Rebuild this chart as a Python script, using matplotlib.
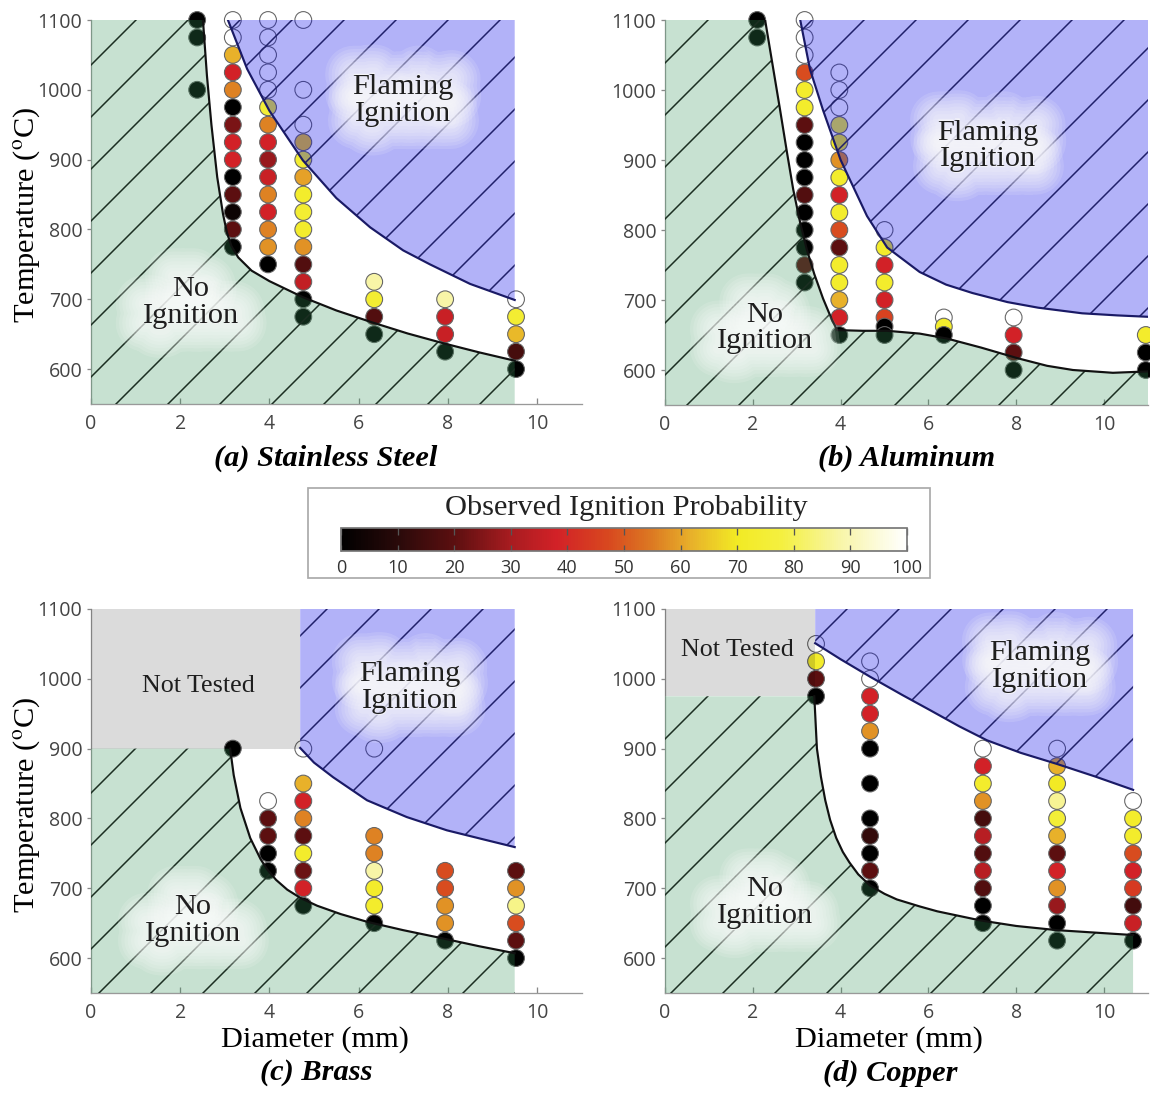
import matplotlib
matplotlib.use('Agg')
import matplotlib.pyplot as plt
import matplotlib.patheffects as pe
from matplotlib.colors import LinearSegmentedColormap, Normalize
from matplotlib.cm import ScalarMappable
from matplotlib.patches import Polygon, Rectangle
import numpy as np

# ---- data (diameter mm, temperature C, observed ignition probability %) ----
ss_x = [2.38] * 3 + [3.18] * 14 + [3.97] * 15 + [4.76] * 14 + [6.35] * 4 + [7.94] * 4 + [9.53] * 5
ss_t = [1100, 1075, 1000,
        1100, 1075, 1050, 1025, 1000, 975, 950, 925, 900, 875, 850, 825, 800, 775,
        1100, 1075, 1050, 1025, 1000, 975, 950, 925, 900, 875, 850, 825, 800, 775, 750,
        1100, 1000, 950, 925, 900, 875, 850, 825, 800, 775, 750, 725, 700, 675,
        725, 700, 675, 650,
        700, 675, 650, 625,
        700, 675, 650, 625, 600]
ss_p = [0, 0, 0,
        100, 100, 62, 38, 56, 0, 24, 38, 38, 0, 20, 3, 20, 0,
        100, 100, 100, 100, 100, 75, 56, 38, 28, 36, 56, 38, 56, 58, 0,
        100, 100, 100, 65, 74, 60, 72, 74, 72, 58, 18, 35, 0, 0,
        88, 74, 18, 0,
        88, 36, 36, 0,
        100, 74, 63, 16, 0]

al_x = [2.1] * 2 + [3.18] * 16 + [3.97] * 16 + [5.0] * 8 + [6.35] * 3 + [7.94] * 4 + [10.95] * 3
al_t = [1100, 1075,
        1100, 1075, 1050, 1025, 1000, 975, 950, 925, 900, 875, 850, 825, 800, 775, 750, 725,
        1025, 1000, 975, 950, 925, 900, 875, 850, 825, 800, 775, 750, 725, 700, 675, 650,
        800, 775, 750, 725, 700, 675, 662, 650,
        675, 662, 650,
        675, 650, 625, 600,
        650, 625, 600]
al_p = [0, 0,
        100, 100, 100, 48, 72, 72, 20, 0, 0, 0, 18, 0, 0, 0, 20, 0,
        100, 100, 100, 75, 70, 58, 72, 38, 72, 48, 20, 72, 72, 62, 38, 0,
        100, 72, 38, 72, 38, 46, 0, 0,
        100, 72, 0,
        100, 38, 20, 0,
        72, 0, 0]

br_x = [3.18] + [3.97] * 5 + [4.76] * 9 + [6.35] * 7 + [7.94] * 5 + [9.53] * 6
br_t = [900,
        825, 800, 775, 750, 725,
        900, 850, 825, 800, 775, 750, 725, 700, 675,
        900, 775, 750, 725, 700, 675, 650,
        725, 700, 675, 650, 625,
        725, 700, 675, 650, 625, 600]
br_p = [0,
        100, 20, 20, 0, 0,
        100, 62, 38, 56, 20, 72, 22, 38, 0,
        100, 56, 56, 88, 72, 72, 0,
        48, 48, 58, 58, 0,
        20, 58, 85, 48, 20, 0]

cu_x = [3.44] * 4 + [4.67] * 12 + [7.24] * 11 + [8.93] * 12 + [10.66] * 9
cu_t = [1050, 1025, 1000, 975,
        1025, 1000, 975, 950, 925, 900, 850, 800, 775, 750, 725, 700,
        900, 875, 850, 825, 800, 775, 750, 725, 700, 675, 650,
        900, 875, 850, 825, 800, 775, 750, 725, 700, 675, 650, 625,
        825, 800, 775, 750, 725, 700, 675, 650, 625]
cu_p = [100, 72, 20, 0,
        100, 100, 38, 38, 58, 0, 0, 0, 12, 0, 20, 0,
        100, 38, 72, 58, 16, 33, 18, 33, 18, 0, 0,
        100, 62, 70, 86, 75, 62, 20, 38, 58, 28, 0, 0,
        100, 72, 72, 48, 38, 44, 15, 36, 0]

# region boundaries
ss_low_x = [2.51, 2.6, 2.7, 2.83, 2.96, 3.05, 3.15, 3.3, 3.6, 4.0, 4.75, 5.5, 6.3, 7.1, 7.9, 8.7, 9.5]
ss_low_y = [1100, 1020, 950, 875, 822, 795, 776, 760, 741, 726, 703, 684, 667, 651, 637, 624, 612]
ss_up_x = [3.07, 3.5, 4.0, 4.75, 5.5, 6.26, 7.0, 7.6, 8.5, 9.5]
ss_up_y = [1100, 1030, 970, 899, 845, 803, 770, 750, 722, 699]

al_low_x = [2.28, 2.45, 2.62, 2.78, 2.92, 3.08, 3.23, 3.4, 3.6, 3.8, 3.92,
            4.5, 5.06, 5.8, 6.42, 7.2, 8.02, 8.7, 9.29, 10.2, 11.0]
al_low_y = [1100, 1036, 972, 910, 858, 810, 772, 737, 702, 672, 657,
            656, 656, 652, 645, 632, 617, 606, 600, 596, 598]
al_up_x = [3.08, 3.3, 3.6, 4.0, 4.6, 5.06, 5.8, 6.4, 7.0, 7.8, 8.5, 9.5, 10.3, 11.0]
al_up_y = [1100, 1030, 971, 900, 820, 775, 740, 722, 710, 697, 689, 681, 678, 676]

br_low_x = [3.12, 3.2, 3.35, 3.57, 3.8, 3.95, 4.15, 4.4, 4.7, 5.07, 5.6, 6.19, 7.0, 7.83, 8.7, 9.5]
br_low_y = [900, 862, 815, 772, 742, 727, 712, 698, 686, 675, 663, 652, 640, 629, 617, 607]
br_up_x = [4.69, 5.0, 5.43, 6.19, 7.08, 7.98, 8.8, 9.5]
br_up_y = [901, 880, 859, 826, 802, 783, 770, 759]

cu_low_x = [3.4, 3.46, 3.55, 3.65, 3.76, 3.9, 4.05, 4.2, 4.4, 4.67, 5.0, 5.28, 5.8, 6.2,
            7.18, 8.0, 8.93, 10.66]
cu_low_y = [975, 900, 860, 826, 798, 772, 752, 737, 720, 704, 692, 684, 674, 667,
            654, 646, 640, 633]
cu_up_x = [3.42, 4.0, 4.67, 5.4, 6.04, 6.7, 7.33, 8.1, 8.93, 9.8, 10.66]
cu_up_y = [1051, 1028, 1003, 977, 955, 932, 912, 894, 878, 860, 841]

cbar_ticks = [0, 10, 20, 30, 40, 50, 60, 70, 80, 90, 100]

W, H, DPI = 1150, 1093, 312
SERIF = 'Liberation Serif'
SANS = 'Open Sans'

plt.rcParams['font.family'] = SERIF
plt.rcParams['mathtext.fontset'] = 'stix'
plt.rcParams['hatch.linewidth'] = 0.35

cmap = LinearSegmentedColormap.from_list('ign', [
    (0.0, '#000000'), (0.1, '#2a0a0a'), (0.2, '#5c0f10'), (0.3, '#a81c20'),
    (0.38, '#d22127'), (0.47, '#d8471f'), (0.55, '#dc7a22'), (0.62, '#e8b12a'),
    (0.7, '#f2ea24'), (0.78, '#f4f040'), (0.88, '#f8f5a5'), (1.0, '#ffffff')])

GREEN = (0.22, 0.58, 0.36, 0.28)
BLUE = (0.0, 0.0, 0.91, 0.30)
GRAY = (0.0, 0.0, 0.0, 0.14)

# soft white halo only (text itself drawn separately on top)
halo = [pe.Stroke(linewidth=w, foreground='white', alpha=0.13)
        for w in [13, 11.5, 10, 8.5, 7, 5.5, 4, 2.5]]


def region(ax, xs, ys, fc, hatch_col=None):
    verts = np.column_stack([xs, ys])
    ax.add_patch(Polygon(verts, closed=True, facecolor=fc, edgecolor='none', lw=0, zorder=3))
    if hatch_col is not None:
        ax.add_patch(Polygon(verts, closed=True, facecolor='none', edgecolor=hatch_col,
                             lw=0, hatch='//', zorder=3))


def panel(ax, x, t, p, low_x, low_y, up_x, up_y, green_top, green_right, texts, gray=None):
    ax.scatter(x, t, c=p, cmap=cmap, vmin=0, vmax=100, s=15, edgecolors='#666',
               linewidths=0.25, zorder=2, clip_on=False)
    # no ignition region
    gx = np.r_[0, 0, low_x, green_right]
    gy = np.r_[550, green_top, low_y, 550]
    region(ax, gx, gy, GREEN, '#1c2e22')
    # flaming ignition region
    bx = np.r_[up_x, up_x[-1], up_x[0]]
    by = np.r_[up_y, 1100, 1100]
    region(ax, bx, by, BLUE, '#20206a')
    if gray is not None:
        region(ax, [0, gray[0], gray[0], 0], [gray[1], gray[1], 1100, 1100], GRAY)
    ax.plot(low_x, low_y, color='#111111', lw=0.5, zorder=4)
    ax.plot(up_x, up_y, color='#1a1a66', lw=0.5, zorder=4)
    for tx, ty, s, fs, fx in texts:
        if fx:
            ax.text(tx, ty, s, ha='center', va='center', fontsize=fs, color='white',
                    linespacing=1.05, zorder=5, path_effects=halo)
        ax.text(tx, ty, s, ha='center', va='center', fontsize=fs, color='#1e1e1e',
                linespacing=1.05, zorder=6)

    ax.set_xlim(0, 11)
    ax.set_ylim(550, 1100)
    for side in ['top', 'right']:
        ax.spines[side].set_visible(False)
    for side in ['left', 'bottom']:
        ax.spines[side].set_color('#999999')
        ax.spines[side].set_linewidth(0.3)
    ax.set_xticks(range(0, 11, 2))
    ax.set_yticks(range(600, 1101, 100))
    ax.tick_params(axis='x', direction='in', length=1.3, width=0.3, color='#888888',
                   labelsize=4.5, labelcolor='#444444', pad=2.2)
    ax.tick_params(axis='y', direction='out', length=1.0, width=0.3, color='#888888',
                   labelsize=4.5, labelcolor='#444444', pad=1.0)
    for lab in ax.get_xticklabels() + ax.get_yticklabels():
        lab.set_fontfamily(SANS)
    ax.set_facecolor('none')


fig = plt.figure(figsize=(W / DPI, H / DPI), dpi=DPI)

ax_a = fig.add_axes([91 / W, 1 - 404 / H, 490.6 / W, 384 / H])
ax_b = fig.add_axes([665 / W, 1 - 405 / H, 483 / W, 385 / H])
ax_c = fig.add_axes([91 / W, 1 - 993 / H, 490.6 / W, 384 / H])
ax_d = fig.add_axes([665 / W, 1 - 993 / H, 483 / W, 384 / H])

FL = 'Flaming\nIgnition'
NO = 'No\nIgnition'
panel(ax_a, ss_x, ss_t, ss_p, ss_low_x, ss_low_y, ss_up_x, ss_up_y, 1100, 9.5,
      [(7.0, 985, FL, 7, True), (2.24, 695, NO, 7, True)])
panel(ax_b, al_x, al_t, al_p, al_low_x, al_low_y, al_up_x, al_up_y, 1100, 11.0,
      [(7.36, 920, FL, 7, True), (2.28, 660, NO, 7, True)])
panel(ax_c, br_x, br_t, br_p, br_low_x, br_low_y, br_up_x, br_up_y, 900, 9.5,
      [(2.4, 990, 'Not Tested', 6, False), (7.15, 987, FL, 7, True), (2.29, 654, NO, 7, True)],
      gray=(4.69, 900))
panel(ax_d, cu_x, cu_t, cu_p, cu_low_x, cu_low_y, cu_up_x, cu_up_y, 975, 10.66,
      [(1.64, 1041, 'Not Tested', 6, False), (8.54, 1017, FL, 7, True), (2.28, 679, NO, 7, True)],
      gray=(3.42, 975))

# labels and panel titles
ylab = r'Temperature ($^{\rm o}$C)'
fig.text(27 / W, 1 - 215 / H, ylab, rotation=90, ha='center', va='center', fontsize=7)
fig.text(27 / W, 1 - 805 / H, ylab, rotation=90, ha='center', va='center', fontsize=7)
fig.text(315 / W, 1 - 1040 / H, 'Diameter (mm)', ha='center', va='center', fontsize=7)
fig.text(889 / W, 1 - 1040 / H, 'Diameter (mm)', ha='center', va='center', fontsize=7)
for px, py, s in [(326, 458, '(a) Stainless Steel'), (907, 458, '(b) Aluminum'),
                  (316, 1073, '(c) Brass'), (890, 1073, '(d) Copper')]:
    fig.text(px / W, 1 - py / H, s, ha='center', va='center', fontsize=7,
             fontweight='bold', fontstyle='italic')

# colorbar legend
fig.add_artist(Rectangle((308 / W, 1 - 578 / H), 622 / W, 90 / H, transform=fig.transFigure,
                         fill=False, edgecolor='#aaaaaa', lw=0.4))
fig.text(626 / W, 1 - 508 / H, 'Observed Ignition Probability', ha='center', va='center',
         fontsize=7, color='#222222')
cax = fig.add_axes([341 / W, 1 - 551 / H, 566 / W, 23 / H])
cb = fig.colorbar(ScalarMappable(norm=Normalize(0, 100), cmap=cmap), cax=cax,
                  orientation='horizontal', ticks=cbar_ticks)
cb.outline.set_edgecolor('#777777')
cb.outline.set_linewidth(0.4)
cax.tick_params(direction='in', length=1.5, width=0.3, color='#555555', labelsize=4.2,
                labelcolor='#333333', pad=1.8, top=True)
for lab in cax.get_xticklabels():
    lab.set_fontfamily(SANS)

fig.savefig('out.png', dpi=DPI)
